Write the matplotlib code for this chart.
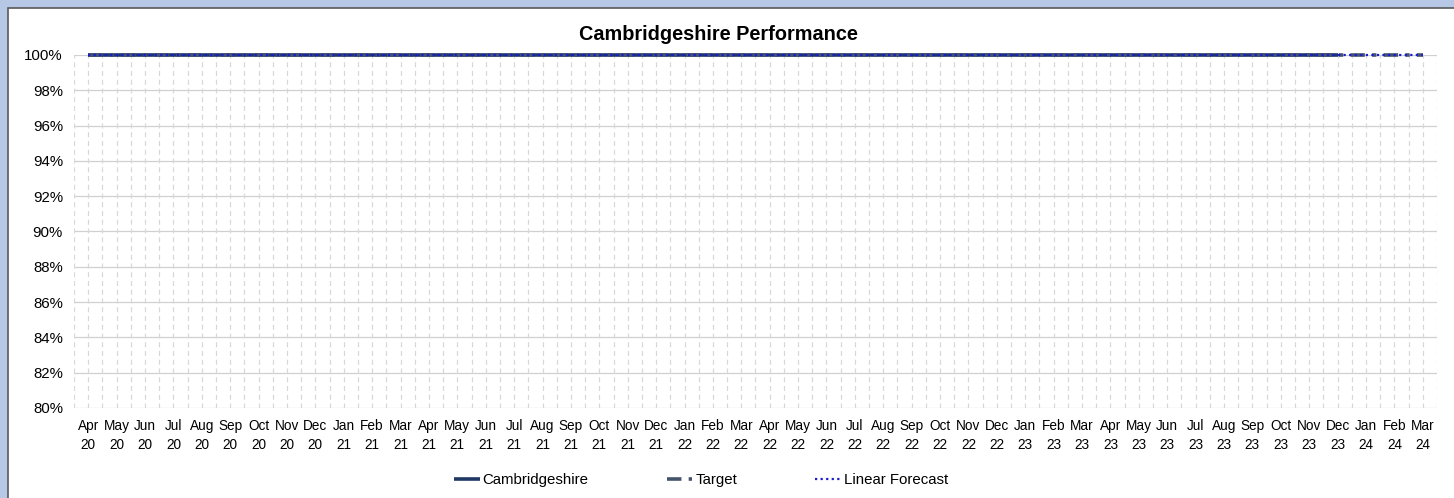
import matplotlib
matplotlib.use('Agg')
import matplotlib.pyplot as plt
from matplotlib.patches import Rectangle
from matplotlib.ticker import FuncFormatter
import numpy as np

plt.rcParams['font.family'] = ['Liberation Sans', 'DejaVu Sans']

# months Apr 20 .. Mar 24
months = ['Apr', 'May', 'Jun', 'Jul', 'Aug', 'Sep', 'Oct', 'Nov', 'Dec', 'Jan', 'Feb', 'Mar']
years = ['20', '21', '22', '23']
labels = []
for y in range(4):
    for i, m in enumerate(months):
        yy = years[y] if i < 9 else str(int(years[y]) + 1)
        labels.append(m + '\n' + yy)

# actual performance Apr 20 .. Dec 23
cambs = [1.0] * 45
target = [1.0] * 48
forecast = [1.0] * 48

fig = plt.figure(figsize=(14.54, 4.98), dpi=100)
fig.patch.set_facecolor('#b7c8e6')
fig.patches.append(Rectangle((8 / 1454, -0.1), 1.1, 1 - 8 / 498 + 0.1,
                             transform=fig.transFigure, facecolor='white',
                             edgecolor='#595959', linewidth=1.2, zorder=-10))

ax = fig.add_axes([74 / 1454, 1 - 408 / 498, (1437 - 74) / 1454, (408 - 55) / 498])
ax.set_facecolor('white')

x = np.arange(len(labels))
xc = np.arange(len(cambs))

ax.plot(xc, cambs, color='#1f3864', lw=2.6, solid_capstyle='butt', clip_on=False, zorder=3,
        label='Cambridgeshire')
ax.plot(x, target, color='#44546a', lw=2.6, dashes=(4, 2, 1.2, 2), clip_on=False, zorder=4,
        label='Target')
ax.plot(x, forecast, color='#1a1ad0', lw=1.6, linestyle=(0, (1, 1.5)), clip_on=False, zorder=5,
        label='Linear Forecast')

ax.set_xlim(-0.5, len(labels) - 0.5)
ax.set_ylim(0.8, 1.0)
ax.set_yticks(np.arange(0.80, 1.001, 0.02))
ax.yaxis.set_major_formatter(FuncFormatter(lambda v, p: '{:.0f}%'.format(v * 100)))
ax.set_xticks(x)
ax.set_xticklabels(labels, fontsize=9.8, linespacing=1.45)
ax.tick_params(axis='y', labelsize=10.8, length=0, pad=8)
ax.tick_params(axis='x', length=0, pad=8)

# gridlines
for v in np.arange(0.80, 1.001, 0.02):
    ax.axhline(v, color='#d0d0d0', lw=0.9, zorder=1)
for xv in np.arange(-0.5, len(labels), 0.5):
    ax.axvline(xv, color='#d8d8d8', lw=0.9, linestyle=(0, (4, 3)), zorder=1)
for s in ax.spines.values():
    s.set_visible(False)

fig.text(718 / 1454, 1 - 34 / 498, 'Cambridgeshire Performance', fontsize=14.3,
         fontweight='bold', ha='center', va='center')

fig.legend(loc='center', bbox_to_anchor=(701 / 1454, 1 - 480 / 498), ncol=3, frameon=False,
           fontsize=10.8, handlelength=1.7, handletextpad=0.2, columnspacing=5.2)

fig.savefig('out.png', dpi=100, facecolor=fig.get_facecolor())
